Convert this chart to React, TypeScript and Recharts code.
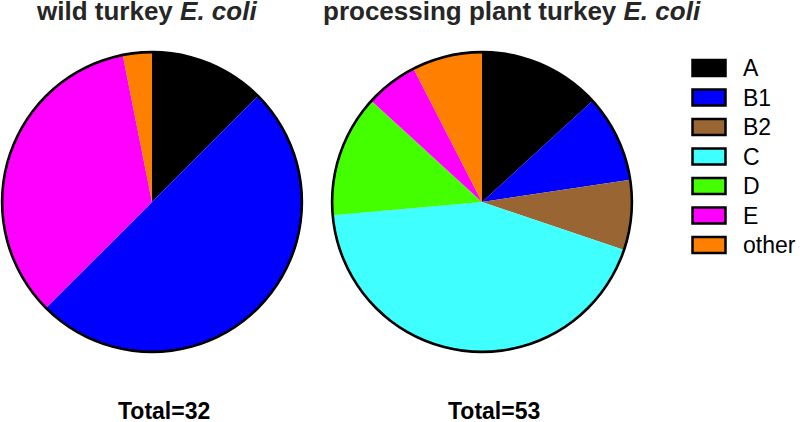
import React from 'react';
import { PieChart, Pie, Cell } from 'recharts';

const categories = ['A', 'B1', 'B2', 'C', 'D', 'E', 'other'];
const colors = ['#000000', '#0000FF', '#996633', '#40FFFF', '#44FF00', '#FF00FF', '#FF8000'];
const wildValues = [4, 16, 0, 0, 0, 11, 1];
const plantValues = [7, 5, 4, 23, 7, 3, 4];
const wildTotal = 32;
const plantTotal = 53;

const build = (vals: number[]) =>
  categories
    .map((name, i) => ({ name, value: vals[i], color: colors[i] }))
    .filter((d) => d.value > 0);

const wildData = build(wildValues);
const plantData = build(plantValues);
const ring = [{ name: 'ring', value: 1 }];

const FONT = '"Liberation Sans", Arial, sans-serif';

export default function App() {
  return (
    <div style={{ position: 'absolute', left: 0, top: 0, width: 800, height: 422, background: '#fff', overflow: 'hidden' }}>
      <PieChart width={800} height={422} margin={{ top: 0, right: 0, bottom: 0, left: 0 }}>
        <Pie data={wildData} dataKey="value" cx={152} cy={202} outerRadius={150} startAngle={90} endAngle={-270} stroke="none" isAnimationActive={false}>
          {wildData.map((d) => (
            <Cell key={d.name} fill={d.color} />
          ))}
        </Pie>
        <Pie data={ring} dataKey="value" cx={152} cy={202} innerRadius={148.6} outerRadius={151.2} startAngle={90} endAngle={-270} fill="#000" stroke="none" isAnimationActive={false} />
        <Pie data={plantData} dataKey="value" cx={482} cy={202} outerRadius={150} startAngle={90} endAngle={-270} stroke="none" isAnimationActive={false}>
          {plantData.map((d) => (
            <Cell key={d.name} fill={d.color} />
          ))}
        </Pie>
        <Pie data={ring} dataKey="value" cx={482} cy={202} innerRadius={148.6} outerRadius={151.2} startAngle={90} endAngle={-270} fill="#000" stroke="none" isAnimationActive={false} />
      </PieChart>
      <svg width={800} height={422} style={{ position: 'absolute', left: 0, top: 0, pointerEvents: 'none' }}>
        <text x={37} y={20} fontFamily={FONT} fontWeight="bold" fontSize={26} fill="#262626">
          wild turkey <tspan fontStyle="italic">E. coli</tspan>
        </text>
        <text x={323} y={20} fontFamily={FONT} fontWeight="bold" fontSize={26} fill="#262626">
          processing plant turkey <tspan fontStyle="italic">E. coli</tspan>
        </text>
        <text x={118} y={419} fontFamily={FONT} fontWeight="bold" fontSize={23} fill="#000">
          {`Total=${wildTotal}`}
        </text>
        <text x={448} y={419} fontFamily={FONT} fontWeight="bold" fontSize={23} fill="#000">
          {`Total=${plantTotal}`}
        </text>
        {categories.map((c, i) => (
          <g key={c}>
            <rect x={692.5} y={60 + i * 29.5} width={33} height={16} fill={colors[i]} stroke="#000" strokeWidth={2.5} />
            <text x={743} y={68 + i * 29.5 + 8} fontFamily={FONT} fontSize={23} fill="#000">
              {c}
            </text>
          </g>
        ))}
      </svg>
    </div>
  );
}
